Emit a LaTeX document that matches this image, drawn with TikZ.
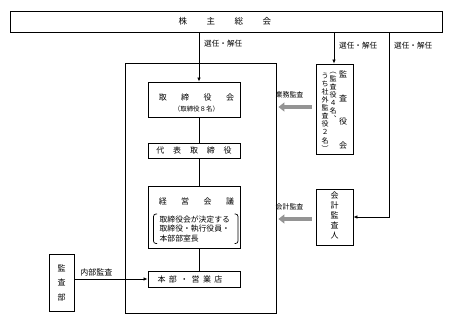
\documentclass[tikz,border=0pt]{standalone}
\usepackage{fontspec}
\setmainfont{Noto Sans CJK JP}
\usetikzlibrary{arrows.meta,calc}
\begin{document}
\begin{tikzpicture}[x=1pt,y=-1pt,
  box/.style={draw, line width=0.9pt, inner sep=0pt},
  arr/.style={line width=0.7pt, -{Latex[length=4pt,width=3.5pt]}},
  ln/.style={line width=0.7pt},
  garr/.style={draw=black!42, line width=3.8pt, -{Triangle[length=6pt,width=9pt]}},
  lbl/.style={font=\fontsize{7}{8}\selectfont, inner sep=0pt},
  ttl/.style={font=\fontsize{8}{9}\selectfont, inner sep=0pt},
  ]
\useasboundingbox (0,0) rectangle (451,322);

% boxes
\node[box, minimum width=432pt, minimum height=21pt] (kabu) at (226,21.5) {};
\node[ttl, font=\fontsize{8.5}{9}\selectfont] at (225,21.5) {株\hspace{19.5pt}主\hspace{19.5pt}総\hspace{19.5pt}会};

\node[box, minimum width=151pt, minimum height=250pt] (container) at (200.5,188) {};

\node[box, minimum width=92pt, minimum height=35pt] (tori) at (194,99.5) {};
\node[ttl] at (196.5,97) {取\hspace{14.5pt}締\hspace{14.5pt}役\hspace{14.5pt}会};
\node[lbl, font=\fontsize{6.5}{7}\selectfont] at (196.5,109.5) {（取締役８名）};

\node[box, minimum width=92pt, minimum height=15pt] (daihyo) at (194,150.5) {};
\node[ttl] at (194,150.5) {代\hspace{8.8pt}表\hspace{8.8pt}取\hspace{8.8pt}締\hspace{8.8pt}役};

\node[box, minimum width=92pt, minimum height=62pt] (keiei) at (194,217) {};
\node[ttl] at (196.5,201) {経\hspace{14.5pt}営\hspace{14.5pt}会\hspace{14.5pt}議};
\node[inner sep=0pt, anchor=west, align=left, font=\fontsize{7.8}{9.5}\selectfont] (kdesc) at (159.5,228.7) {取締役会が決定する\\取締役・執行役員・\\本部部室長};
\draw[line width=0.7pt, rounded corners=2.5pt] (157,214) -- (153.5,214) -- (153.5,243.5) -- (157,243.5);
\draw[line width=0.7pt, rounded corners=2.5pt] (234.5,214) -- (238,214) -- (238,243.5) -- (234.5,243.5);

\node[box, minimum width=92pt, minimum height=16pt] (honbu) at (194,279) {};
\node[ttl] at (190,279) {本\hspace{3.4pt}部\hspace{3.4pt}・\hspace{3.4pt}営\hspace{3.4pt}業\hspace{3.4pt}店};

\node[box, minimum width=37pt, minimum height=90pt] (kansayaku) at (334.5,109) {};
\node[inner sep=0pt, align=center, font=\fontsize{8}{23.4}\selectfont] at (343,110) {監\\査\\役\\会};
\node[inner sep=0pt, align=center, font=\fontsize{7}{7.9}\selectfont] at (333,97) {︵\\監\\査\\役\\４\\名\\︑};
\node[inner sep=0pt, align=center, font=\fontsize{7}{8.1}\selectfont] at (325,112) {う\\ち\\社\\外\\監\\査\\役\\２\\名\\︶};

\node[box, minimum width=37pt, minimum height=56pt] (kaikei) at (334.5,217) {};
\node[inner sep=0pt, align=center, font=\fontsize{8}{10}\selectfont] at (334.5,215) {会\\計\\監\\査\\人};

\node[box, minimum width=25pt, minimum height=57pt] (kansabu) at (61.5,282.5) {};
\node[inner sep=0pt, align=center, font=\fontsize{8}{14.5}\selectfont] at (61.5,282.5) {監\\査\\部};

% connectors
\draw[arr] ([xshift=5pt]tori.north |- kabu.south) -- ([xshift=5pt]tori.north);
\draw[ln] ([xshift=5pt]tori.south) -- ([xshift=5pt]daihyo.north);
\draw[ln] ([xshift=5pt]daihyo.south) -- ([xshift=5pt]keiei.north);
\draw[ln] ([xshift=5pt]keiei.south) -- ([xshift=5pt]honbu.north);
\draw[arr] ([xshift=-0.5pt]kansayaku.north |- kabu.south) -- ([xshift=-0.5pt]kansayaku.north);
\coordinate (rtop) at (389,32);
\draw[arr] (rtop) |- (kaikei.east);
\draw[arr] (kansabu.east |- honbu.west) -- (honbu.west);

\draw[garr] ($(kansayaku.west)+(-4,-2)$) -- ($(container.east |- kansayaku.west)+(2,-2)$);
\draw[garr] ($(kaikei.west)+(-4,2)$) -- ($(container.east |- kaikei.west)+(2,2)$);

% labels
\node[lbl, anchor=west, font=\fontsize{7.6}{8}\selectfont] at (204,44) {選任・解任};
\node[lbl, anchor=west, font=\fontsize{7.6}{8}\selectfont] at (339,46) {選任・解任};
\node[lbl, anchor=west, font=\fontsize{7.6}{8}\selectfont] at (394,46) {選任・解任};
\node[lbl] at (289.5,95) {業務監査};
\node[lbl] at (289.5,207) {会計監査};
\node[lbl, font=\fontsize{8}{8}\selectfont] at (96.5,272) {内部監査};
\end{tikzpicture}
\end{document}
